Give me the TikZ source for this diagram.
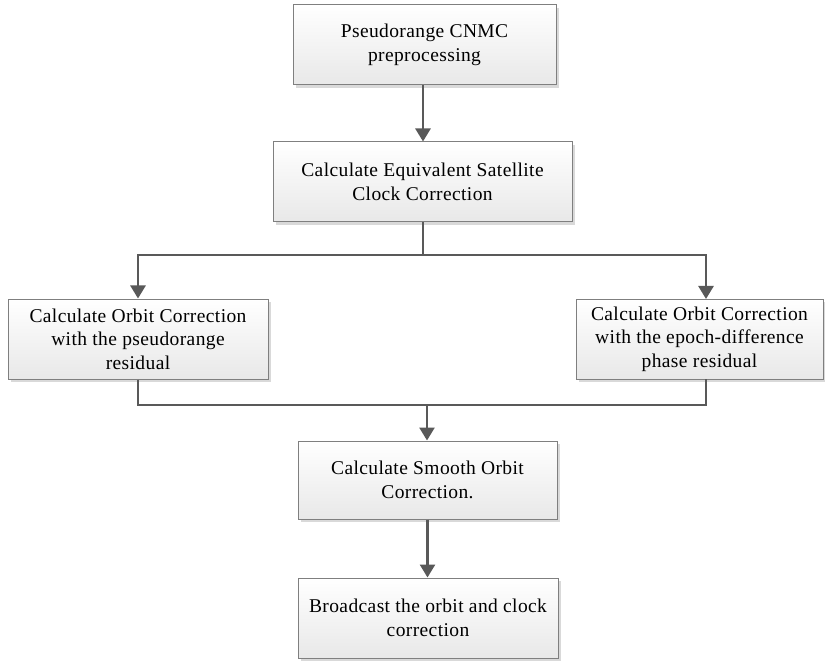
\documentclass[tikz,border=0pt]{standalone}
\usepackage{fontspec}
\setmainfont{Liberation Serif}[LetterSpace=2]
\usetikzlibrary{arrows.meta,shadows}

\definecolor{boxline}{HTML}{7F7F7F}
\definecolor{flowline}{HTML}{595959}

\begin{document}
\begin{tikzpicture}[x=1pt, y=1pt,
    stepbox/.style={draw=boxline, line width=1pt, top color=white, bottom color=black!9,
        align=center, inner sep=2pt, font=\fontsize{19.5}{23.5}\selectfont,
        drop shadow={shadow xshift=3pt, shadow yshift=-3pt, fill=black!15, opacity=1}},
    flow/.style={draw=flowline, line width=2.6pt},
    arr/.style={flow, -{Triangle[width=15pt,length=13pt]}}]
\useasboundingbox (0,0) rectangle (825,-663);
\node[stepbox, minimum width=263, minimum height=80] (pre) at (424.5,-45) {Pseudorange CNMC\\preprocessing};
\node[stepbox, minimum width=299, minimum height=80] (ecc) at (422.5,-182) {Calculate Equivalent Satellite\\Clock Correction};
\node[stepbox, minimum width=260, minimum height=80] (orbp) at (138,-339) {Calculate Orbit Correction\\with the pseudorange\\residual};
\node[stepbox, minimum width=247, minimum height=80] (orbe) at (699.5,-339) {Calculate Orbit Correction\\with the epoch-difference\\phase residual};
\node[stepbox, minimum width=259, minimum height=78] (smooth) at (427.5,-480) {Calculate Smooth Orbit\\Correction.};
\node[stepbox, minimum width=260, minimum height=80] (bcast) at (428,-618) {Broadcast the orbit and clock\\correction};

\coordinate (split) at (423,-255);
\coordinate (merge) at (427,-405);

\draw[arr] (pre.south -| split) -- (ecc.north -| split);
\draw[flow] (ecc.south -| split) -- (split);
\draw[arr] (split) -| (orbp.north);
\draw[arr] (split) -| (706,-299);
\draw[flow] (orbp.south) |- (merge);
\draw[flow] (706,-379) |- (merge);
\draw[arr] (merge) -- (smooth.north -| merge);
\draw[arr] (smooth.south) -- (bcast.north -| smooth.south);
\end{tikzpicture}
\end{document}
